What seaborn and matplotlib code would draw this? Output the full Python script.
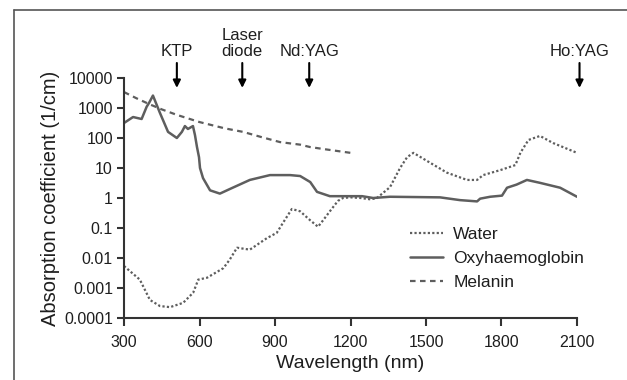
import seaborn as sns
import matplotlib.pyplot as plt
from matplotlib.lines import Line2D

sns.set_style("ticks")
plt.rcParams['font.family'] = ['Liberation Sans', 'DejaVu Sans']

# absorption spectra (nm, 1/cm)
water_nm = [300, 363, 403, 443, 483, 535, 575, 595, 630, 695, 720, 749, 800, 868, 907, 932, 967,
            1000, 1040, 1071, 1091, 1118, 1150, 1170, 1200, 1240, 1280, 1305, 1357, 1397, 1425,
            1450, 1516, 1583, 1663, 1703, 1727, 1795, 1855, 1875, 1907, 1953, 2005, 2100]
water_mu = [0.0054, 0.0019, 0.0004, 0.00025, 0.00023, 0.00032, 0.0007, 0.0019, 0.0022, 0.0046,
            0.0088, 0.022, 0.019, 0.046, 0.069, 0.15, 0.43,
            0.36, 0.18, 0.11, 0.18, 0.36, 0.8, 1.0, 1.05, 1.0, 0.9, 1.0, 2.3, 10, 23,
            32, 15, 7, 4, 4, 5.8, 8.5, 12.5, 32, 86, 117, 68, 32]

oxy_nm = [300, 336, 370, 390, 400, 415, 443, 475, 510, 530, 542, 554, 574, 582, 590, 598, 602,
          614, 642, 681, 721, 800, 880, 960, 1000, 1040, 1067, 1118, 1246, 1290, 1357, 1556,
          1635, 1703, 1715, 1755, 1802, 1822, 1860, 1901, 1953, 2033, 2100]
oxy_mu = [316, 500, 430, 1100, 1500, 2600, 680, 160, 100, 160, 250, 200, 250, 125, 50, 23, 10,
          4.6, 1.8, 1.4, 2.0, 4.0, 5.8, 5.8, 5.4, 3.4, 1.6, 1.15, 1.15, 1.0, 1.1, 1.05,
          0.85, 0.77, 0.95, 1.1, 1.2, 2.2, 2.8, 4.0, 3.2, 2.2, 1.1]

melanin_nm = [300, 350, 400, 450, 510, 600, 700, 773, 850, 920, 1000, 1039, 1100, 1200]
melanin_mu = [3400, 2100, 1350, 900, 590, 340, 210, 160, 105, 73, 60, 50, 42, 32]

lasers = ['KTP', 'Laser\ndiode', 'Nd:YAG', 'Ho:YAG']
laser_nm = [510, 770, 1036, 2110]

yticks = [0.0001, 0.001, 0.01, 0.1, 1, 10, 100, 1000, 10000]
ylabels = ['0.0001', '0.001', '0.01', '0.1', '1', '10', '100', '1000', '10000']
xticks = [300, 600, 900, 1200, 1500, 1800, 2100]

line_col = '#5e5e5e'
ink = '#1e1e1e'

fig = plt.figure(figsize=(6.27, 3.80), dpi=100)
ax = fig.add_axes([124 / 627, 1 - 318 / 380, (577 - 124) / 627, (318 - 78) / 380])

sns.lineplot(x=water_nm, y=water_mu, ax=ax, color=line_col, lw=1.6, linestyle=(0, (1, 1)),
             label='Water')
sns.lineplot(x=oxy_nm, y=oxy_mu, ax=ax, color=line_col, lw=1.8, label='Oxyhaemoglobin')
sns.lineplot(x=melanin_nm, y=melanin_mu, ax=ax, color=line_col, lw=1.6,
             linestyle=(0, (2.5, 2)), label='Melanin')

ax.set_yscale('log')
ax.set_xlim(300, 2100)
ax.set_ylim(0.0001, 10000)
ax.set_yticks(yticks)
ax.set_yticklabels(ylabels)
ax.minorticks_off()
ax.set_xticks(xticks)
ax.tick_params(labelsize=11.5, colors='#333333', labelcolor=ink, width=1.5, length=5, pad=3)
ax.tick_params(axis='x', length=6, pad=6)
for s in ['top', 'right']:
    ax.spines[s].set_visible(False)
for s in ['left', 'bottom']:
    ax.spines[s].set_color('#333333')
    ax.spines[s].set_linewidth(1.5)

ax.set_xlabel('Wavelength (nm)', fontsize=14, color=ink, labelpad=4)
ax.set_ylabel('Absorption coefficient (1/cm)', fontsize=14.5, color=ink, labelpad=3)

# laser arrows above the plot
for name, wl in zip(lasers, laser_nm):
    ax.annotate('', xy=(wl, 10 ** 3.67), xytext=(wl, 10 ** 4.5),
                arrowprops=dict(arrowstyle='-|>', color='black', lw=1.5, mutation_scale=11,
                                shrinkA=0, shrinkB=0),
                annotation_clip=False)
    ax.text(wl, 10 ** 4.63, name, ha='center', va='bottom', fontsize=12, color=ink,
            linespacing=1.05, clip_on=False)

leg = ax.legend(loc='upper left', bbox_to_anchor=(410 / 627, 1 - 227 / 380),
                bbox_transform=fig.transFigure, frameon=False, fontsize=12.5,
                handlelength=1.9, handletextpad=0.6, labelspacing=0.5,
                borderpad=0, borderaxespad=0)
for t in leg.get_texts():
    t.set_color(ink)

# frame lines of the original figure
fig.add_artist(Line2D([14 / 627, 14 / 627], [0, 1 - 10 / 380], color='#555555', lw=1.2))
fig.add_artist(Line2D([14 / 627, 1], [1 - 10 / 380, 1 - 10 / 380], color='#555555', lw=1.2))

fig.savefig('out.png', dpi=100)
